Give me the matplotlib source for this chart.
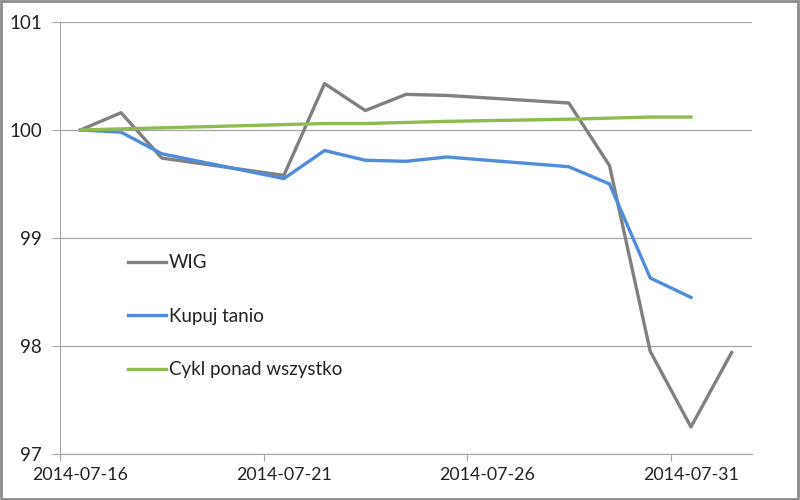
import matplotlib
matplotlib.use('Agg')
import matplotlib.pyplot as plt
import pandas as pd

plt.rcParams['font.family'] = ['Lato', 'DejaVu Sans']

# trading days
dates = ['2014-07-16', '2014-07-17', '2014-07-18', '2014-07-21', '2014-07-22',
         '2014-07-23', '2014-07-24', '2014-07-25', '2014-07-28', '2014-07-29',
         '2014-07-30', '2014-07-31', '2014-08-01']

wig = [100.0, 100.16, 99.74, 99.58, 100.43, 100.18, 100.33, 100.32, 100.25,
       99.67, 97.95, 97.25, 97.94]
kupuj_tanio = [100.0, 99.98, 99.78, 99.55, 99.81, 99.72, 99.71, 99.75, 99.66,
               99.50, 98.63, 98.45]
cykl = [100.0, 100.01, 100.02, 100.05, 100.06, 100.06, 100.07, 100.08, 100.10,
        100.11, 100.12, 100.12]

tick_labels = ['2014-07-16', '2014-07-21', '2014-07-26', '2014-07-31']
y_ticks = [97, 98, 99, 100, 101]

d = pd.to_datetime(dates)
start = d[0]
x = [(t - start).days for t in d]
tick_pos = [(pd.Timestamp(t) - start).days for t in tick_labels]

fig = plt.figure(figsize=(8, 5), dpi=100)
ax = fig.add_axes([0.075, 0.092, 0.865, 0.864])

ax.plot(x, wig, color='#808080', lw=2.4, label='WIG', solid_joinstyle='round')
ax.plot(x[:len(kupuj_tanio)], kupuj_tanio, color='#4f8ddb', lw=2.4,
        label='Kupuj tanio', solid_joinstyle='round')
ax.plot(x[:len(cykl)], cykl, color='#8dbb4f', lw=2.4,
        label='Cykl ponad wszystko', solid_joinstyle='round')

ax.set_xlim(-0.5, 16.5)
ax.set_ylim(97, 101)
ax.set_yticks(y_ticks)
ax.yaxis.grid(True, color='#a6a6a6', lw=0.9)
ax.set_axisbelow(True)

# tick marks at day boundaries, labels at the day itself
ax.set_xticks([p - 0.5 for p in tick_pos])
ax.set_xticklabels([])
ax.set_xticks(tick_pos, minor=True)
ax.set_xticklabels(tick_labels, minor=True)
ax.tick_params(axis='x', which='minor', length=0, pad=9, labelsize=12.8)
ax.tick_params(axis='x', which='major', length=5, color='#a6a6a6')
ax.tick_params(axis='y', length=6, color='#a6a6a6', pad=7, labelsize=13.5)
ax.tick_params(which='both', labelcolor='#222222')

for s in ['top', 'right']:
    ax.spines[s].set_visible(False)
ax.spines['left'].set_color('#a6a6a6')
ax.spines['bottom'].set_color('#a6a6a6')

ax.legend(loc='center left', bbox_to_anchor=(0.098, 0.319), frameon=False,
          fontsize=13.5, handlelength=2.05, handletextpad=0.15, labelspacing=1.95,
          borderpad=0, borderaxespad=0, labelcolor='#222222')

# outer border of the chart
fig.patches.append(plt.Rectangle((0.001, 0.002), 0.997, 0.996, transform=fig.transFigure,
                                 fill=False, edgecolor='#8c8c8c', lw=2))

fig.savefig('out.png', dpi=100)
